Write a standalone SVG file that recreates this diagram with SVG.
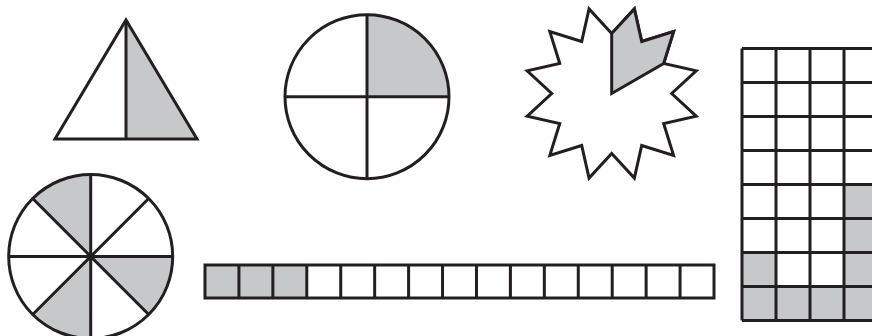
<svg xmlns="http://www.w3.org/2000/svg" width="872" height="336" viewBox="0 0 872 336">
<style>
.s{stroke:#231f20;stroke-width:3;fill:none;stroke-linejoin:miter;stroke-miterlimit:10}
.g{fill:#c7c8ca;stroke:none}
.w{fill:#ffffff;stroke:none}
</style>
<rect width="872" height="336" fill="#ffffff"/>
<g id="triangle">
<polygon class="g" points="126,20 197,139 126,139"/>
<polygon class="s" points="126,20 197,139 55,139"/>
<line class="s" x1="126" y1="20" x2="126" y2="139"/>
</g>
<g id="circle-quarters">
<path class="g" d="M367,96.7 L367,14.7 A82,82 0 0 1 449,96.7 Z"/>
<circle class="s" cx="367" cy="96.7" r="82"/>
<line class="s" x1="367" y1="14.7" x2="367" y2="178.7"/>
<line class="s" x1="285" y1="96.7" x2="449" y2="96.7"/>
</g>
<g id="star">
<polygon class="s" points="611.7,33.5 634.35,8.98 641.7,41.54 673.57,31.63 663.66,63.5 696.22,70.85 671.7,93.5 696.22,116.15 663.66,123.5 673.57,155.37 641.7,145.46 634.35,178.02 611.7,153.5 589.05,178.02 581.7,145.46 549.83,155.37 559.74,123.5 527.18,116.15 551.7,93.5 527.18,70.85 559.74,63.5 549.83,31.63 581.7,41.54 589.05,8.98"/>
<polygon class="s" style="fill:#c7c8ca" points="611.7,93.5 611.7,33.5 634.35,8.98 641.7,41.54 673.57,31.63 663.66,63.5"/>
</g>
<g id="grid">
<rect class="g" x="844" y="184.5" width="34" height="102"/>
<rect class="g" x="742" y="252.5" width="34" height="34"/>
<rect class="g" x="742" y="286.5" width="136" height="34"/>
<path class="s" d="M742,48.5 V320.5 M776,48.5 V320.5 M810,48.5 V320.5 M844,48.5 V320.5 M878,48.5 V320.5 M742,48.5 H878 M742,82.5 H878 M742,116.5 H878 M742,150.5 H878 M742,184.5 H878 M742,218.5 H878 M742,252.5 H878 M742,286.5 H878 M742,320.5 H878"/>
</g>
<g id="circle-eighths">
<path class="g" d="M90.7,256.5 L32.72,198.52 A82,82 0 0 1 90.7,174.5 Z"/>
<path class="g" d="M90.7,256.5 L172.7,256.5 A82,82 0 0 1 148.68,314.48 Z"/>
<path class="g" d="M90.7,256.5 L90.7,338.5 A82,82 0 0 1 32.72,314.48 Z"/>
<circle class="s" cx="90.7" cy="256.5" r="82"/>
<path class="s" d="M8.7,256.5 H172.7 M90.7,174.5 V338.5 M32.72,198.52 L148.68,314.48 M148.68,198.52 L32.72,314.48"/>
<circle cx="90.7" cy="256.5" r="2.5" fill="#231f20"/>
</g>
<g id="bar">
<rect class="g" x="205" y="265" width="101.8" height="33"/>
<rect class="s" x="205" y="265" width="509" height="33"/>
<path class="s" d="M238.93,265 V298 M272.87,265 V298 M306.8,265 V298 M340.73,265 V298 M374.67,265 V298 M408.6,265 V298 M442.53,265 V298 M476.47,265 V298 M510.4,265 V298 M544.33,265 V298 M578.27,265 V298 M612.2,265 V298 M646.13,265 V298 M680.07,265 V298"/>
</g>
</svg>
